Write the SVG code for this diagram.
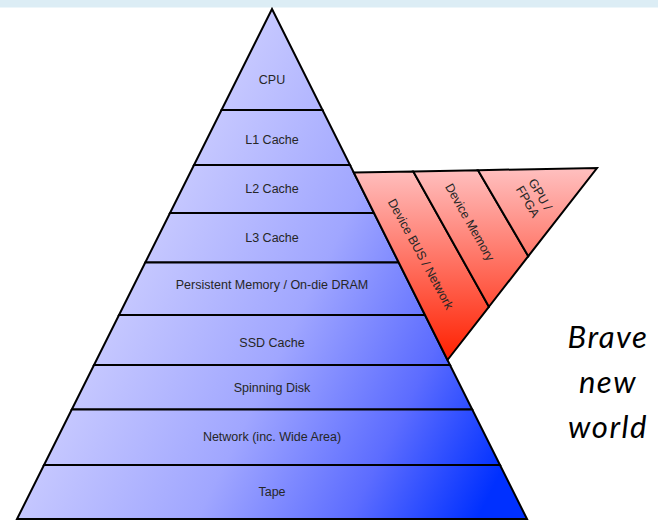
<svg xmlns="http://www.w3.org/2000/svg" width="658" height="520" viewBox="0 0 658 520">
<defs>
<linearGradient id="blue" gradientUnits="userSpaceOnUse" x1="227" y1="0" x2="635" y2="204">
<stop offset="0" stop-color="#cfd0ff"/>
<stop offset="0.45" stop-color="#a0a6ff"/>
<stop offset="0.75" stop-color="#5c6cff"/>
<stop offset="1" stop-color="#0030ff"/>
</linearGradient>
<linearGradient id="red" gradientUnits="userSpaceOnUse" x1="0" y1="168" x2="0" y2="360">
<stop offset="0" stop-color="#ffc0c0"/>
<stop offset="1" stop-color="#ff2000"/>
</linearGradient>
<style>
.tier{fill:url(#blue);stroke:#000;stroke-width:2;stroke-linejoin:miter}
.dev{fill:url(#red);stroke:#000;stroke-width:2;stroke-linejoin:miter}
.lbl{font-family:"Liberation Sans",Arial,sans-serif;font-size:12.5px;fill:#262626;text-anchor:middle}
.big{font-family:Lato,"Open Sans",sans-serif;font-style:italic;font-size:31px;letter-spacing:1.5px;fill:#000;text-anchor:middle}
</style>
</defs>
<rect x="0" y="0" width="658" height="7.5" fill="#dcedf5"/>
<g id="cpu"><polygon class="tier" points="272,9 322.5,110 221.5,110"/><text class="lbl" x="272" y="84">CPU</text></g>
<g id="l1"><polygon class="tier" points="221.5,110 322.5,110 350,165 194,165"/><text class="lbl" x="272" y="144">L1 Cache</text></g>
<g id="l2"><polygon class="tier" points="194,165 350,165 374,213 170,213"/><text class="lbl" x="272" y="193">L2 Cache</text></g>
<g id="l3"><polygon class="tier" points="170,213 374,213 398.75,262.5 145.25,262.5"/><text class="lbl" x="272" y="242">L3 Cache</text></g>
<g id="pmem"><polygon class="tier" points="145.25,262.5 398.75,262.5 425,315 119,315"/><text class="lbl" x="272" y="289">Persistent Memory / On-die DRAM</text></g>
<g id="ssd"><polygon class="tier" points="119,315 425,315 450,365 94,365"/><text class="lbl" x="272" y="346.5">SSD Cache</text></g>
<g id="disk"><polygon class="tier" points="94,365 450,365 472.25,409.5 71.75,409.5"/><text class="lbl" x="272" y="391.5">Spinning Disk</text></g>
<g id="network"><polygon class="tier" points="71.75,409.5 472.25,409.5 500,465 44,465"/><text class="lbl" x="272" y="441">Network (inc. Wide Area)</text></g>
<g id="tape"><polygon class="tier" points="44,465 500,465 527,519 17,519"/><text class="lbl" x="272" y="496">Tape</text></g>
<g id="devbus"><polygon class="dev" points="353.75,172.5 413.3,171.4 488.9,306.8 447.5,360"/><text class="lbl" transform="translate(421,254) rotate(61.5)" y="4.5">Device BUS / Network</text></g>
<g id="devmem"><polygon class="dev" points="413.3,171.4 478,170.2 528.3,256.2 488.9,306.8"/><text class="lbl" transform="translate(470,222) rotate(60.5)" y="4.5">Device Memory</text></g>
<g id="gpu"><polygon class="dev" points="478,170.2 597,168 528.3,256.2"/><text class="lbl" transform="translate(534,198) rotate(60)"><tspan x="0" y="-3">GPU /</tspan><tspan x="0" y="11.5">FPGA</tspan></text></g>
<g id="connectors"></g>
<g id="brave"><text class="big" x="608" y="348">Brave</text><text class="big" x="608" y="393">new</text><text class="big" x="608" y="438">world</text></g>
</svg>
